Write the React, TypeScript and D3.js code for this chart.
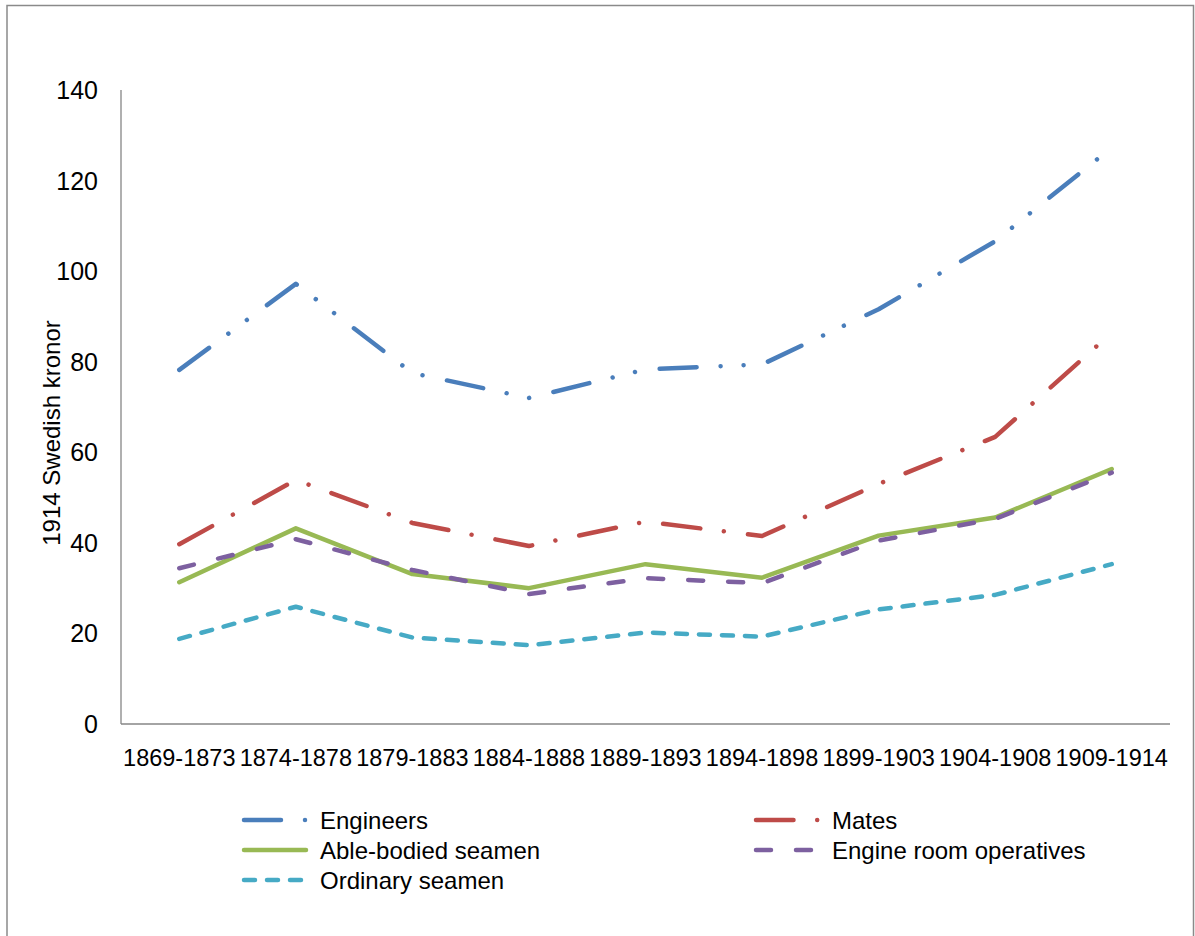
import React from "react";
import * as d3 from "d3";

const categories = [
  "1869-1873", "1874-1878", "1879-1883", "1884-1888", "1889-1893",
  "1894-1898", "1899-1903", "1904-1908", "1909-1914",
];
const engineers = [78.2, 97.2, 77.5, 72.0, 78.3, 79.4, 91.6, 106.6, 127.3];
const mates = [39.7, 53.9, 44.4, 39.3, 44.7, 41.5, 53.0, 63.4, 86.4];
const ableBodied = [31.3, 43.2, 33.1, 30.0, 35.3, 32.3, 41.6, 45.6, 56.3];
const engineRoom = [34.4, 40.8, 34.0, 28.7, 32.2, 31.1, 40.5, 45.3, 55.5];
const ordinary = [18.8, 25.9, 19.1, 17.4, 20.2, 19.3, 25.3, 28.5, 35.3];
const yTicks = [0, 20, 40, 60, 80, 100, 120, 140];

const series = [
  { name: "Engineers", values: engineers, color: "#4a7ebb", dash: "37 24 0.001 23 0.001 25" },
  { name: "Mates", values: mates, color: "#be4b48", dash: "37.5 23.7 0.001 24.3" },
  { name: "Able-bodied seamen", values: ableBodied, color: "#98b954", dash: "" },
  { name: "Engine room operatives", values: engineRoom, color: "#7d60a0", dash: "15 25" },
  { name: "Ordinary seamen", values: ordinary, color: "#46aac5", dash: "11 12" },
];

const W = 1195;
const H = 936;
const X0 = 121;
const X1 = 1170;
const Y0 = 724;
const Y1 = 90;
const FONT = "'Liberation Sans', Arial, sans-serif";

export default function App() {
  const x = d3.scaleBand<string>().domain(categories).range([X0, X1]).padding(0);
  const y = d3.scaleLinear().domain([0, 140]).range([Y0, Y1]);
  const cx = (c: string) => (x(c) as number) + x.bandwidth() / 2;

  const line = d3
    .line<number>()
    .x((_, i) => cx(categories[i]))
    .y((v) => y(v));

  const legendPos = [
    { x: 244, y: 820 },
    { x: 756, y: 820 },
    { x: 244, y: 850 },
    { x: 756, y: 850 },
    { x: 244, y: 880 },
  ];

  return (
    <svg
      width={W}
      height={H}
      style={{ position: "absolute", left: 0, top: 0, background: "#fff" }}
    >
      <rect x={7} y={5.5} width={1186.5} height={1000} fill="#fff" stroke="#8a8a8a" strokeWidth={1.5} />

      <line x1={X0} x2={X0} y1={Y1} y2={Y0} stroke="#868686" strokeWidth={1.3} />
      <line x1={X0} x2={X1} y1={Y0} y2={Y0} stroke="#868686" strokeWidth={1.3} />

      {yTicks.map((t) => (
        <text
          key={t}
          x={98}
          y={y(t)}
          dy="0.36em"
          textAnchor="end"
          fontFamily={FONT}
          fontSize={25}
          fill="#000"
        >
          {t}
        </text>
      ))}

      {categories.map((c) => (
        <text
          key={c}
          x={cx(c)}
          y={766}
          textAnchor="middle"
          fontFamily={FONT}
          fontSize={23.5}
          fill="#000"
        >
          {c}
        </text>
      ))}

      <text
        transform="translate(60,433) rotate(-90)"
        textAnchor="middle"
        fontFamily={FONT}
        fontSize={24}
        fill="#000"
      >
        1914 Swedish kronor
      </text>

      {series.map((s) => (
        <path
          key={s.name}
          d={line(s.values) || ""}
          fill="none"
          stroke={s.color}
          strokeWidth={4.5}
          strokeLinecap="round"
          strokeLinejoin="round"
          strokeDasharray={s.dash || undefined}
        />
      ))}

      {series.map((s, i) => {
        const p = legendPos[i];
        return (
          <g key={s.name}>
            <line
              x1={p.x}
              x2={p.x + 62}
              y1={p.y}
              y2={p.y}
              stroke={s.color}
              strokeWidth={4.5}
              strokeLinecap="round"
              strokeDasharray={s.dash || undefined}
            />
            <text
              x={p.x + 76}
              y={p.y}
              dy="0.36em"
              fontFamily={FONT}
              fontSize={24}
              fill="#000"
            >
              {s.name}
            </text>
          </g>
        );
      })}
    </svg>
  );
}
